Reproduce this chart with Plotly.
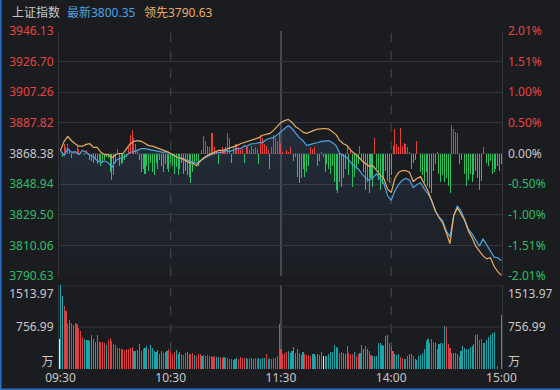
import plotly.graph_objects as go

# ---------------- data ----------------
PREV_CLOSE = 3868.38
LATEST = 3800.35
LEADING = 3790.63
PRICE_MIN, PRICE_MAX = 3790.63, 3946.13
VOL_MAX = 1513.97

price_ticks = [3790.63, 3810.06, 3829.50, 3848.94, 3868.38, 3887.82, 3907.26, 3926.70, 3946.13]
pct_tick_labels = ['-2.01%', '-1.51%', '-1.00%', '-0.50%', '0.00%', '0.50%', '1.00%', '1.51%', '2.01%']
time_ticks = [0, 60, 120, 180, 240]
time_labels = ['09:30', '10:30', '11:30', '14:00', '15:00']
vol_ticks = [0, 756.99, 1513.97]
vol_tick_labels = ['万', '756.99', '1513.97']

# price line (percent change vs previous close), every 2 minutes
line_minutes = list(range(0, 241, 2))
price_pct = [
    0.05, -0.03, 0.08, 0.02, 0.03, -0.02, 0.05, 0.02, -0.03, -0.05,
    -0.12, -0.15, -0.12, -0.15, -0.23, -0.12, -0.08, -0.07, -0.03, 0.02,
    0.03, 0.05, 0.08, 0.08, 0.07, 0.05, 0.05, 0.03, 0.02, 0.03,
    0.00, -0.03, -0.07, -0.08, -0.10, -0.12, -0.15, -0.16, -0.12, -0.08,
    -0.05, -0.02, 0.00, 0.02, 0.02, 0.05, 0.03, 0.05, 0.08, 0.08,
    0.12, 0.13, 0.16, 0.16, 0.18, 0.18, 0.23, 0.25, 0.26, 0.31,
    0.36,
    0.41, 0.46, 0.41, 0.33, 0.26, 0.21, 0.13, 0.15, 0.16, 0.18,
    0.20, 0.21, 0.21, 0.18, 0.13, 0.00, -0.03, -0.07, -0.15, -0.20,
    -0.25, -0.33, -0.40, -0.44, -0.40, -0.33, -0.41, -0.49, -0.69, -0.77,
    -0.61, -0.51, -0.44, -0.41, -0.44, -0.56, -0.51, -0.48, -0.58, -0.66,
    -0.77, -0.94, -1.04, -1.10, -1.27, -1.37, -1.02, -0.86, -0.94, -1.10,
    -1.24, -1.32, -1.43, -1.52, -1.40, -1.50, -1.62, -1.70, -1.71, -1.76,
]
lead_pct = [
    0.05, 0.20, 0.28, 0.21, 0.16, 0.12, 0.12, 0.15, 0.16, 0.10,
    0.10, 0.02, -0.02, -0.02, -0.07, -0.02, 0.00, 0.00, 0.08, 0.16,
    0.20, 0.21, 0.20, 0.16, 0.13, 0.12, 0.10, 0.08, 0.05, 0.03,
    0.00, -0.03, -0.07, -0.08, -0.12, -0.15, -0.16, -0.20, -0.13, -0.07,
    -0.03, 0.00, 0.02, 0.05, 0.05, 0.07, 0.08, 0.10, 0.13, 0.16,
    0.18, 0.21, 0.23, 0.25, 0.26, 0.30, 0.31, 0.33, 0.38, 0.44,
    0.51,
    0.54, 0.56, 0.51, 0.44, 0.40, 0.35, 0.33, 0.36, 0.38, 0.40,
    0.41, 0.41, 0.40, 0.36, 0.31, 0.21, 0.16, 0.13, 0.05, 0.00,
    -0.05, -0.12, -0.16, -0.21, -0.20, -0.28, -0.35, -0.41, -0.58, -0.64,
    -0.41, -0.31, -0.28, -0.28, -0.31, -0.46, -0.41, -0.38, -0.49, -0.61,
    -0.77, -0.94, -1.05, -1.14, -1.30, -1.48, -1.02, -0.89, -0.99, -1.10,
    -1.27, -1.38, -1.52, -1.60, -1.68, -1.73, -1.71, -1.85, -1.94, -2.00,
]

# buy/sell strength bars, one per minute (percent units)
strength_minutes = list(range(241))
strength_pct = [
    0, -0.05, 0.15, 0.10, 0.16, 0.08, -0.07, 0.03, 0, 0.13,
    0.08, 0.03, 0, -0.03, 0.05, 0, -0.10, -0.12, -0.15, -0.10,
    -0.18, -0.12, -0.20, -0.15, -0.10, -0.05, -0.08, -0.30, -0.43, -0.35,
    -0.15, 0.08, -0.20, -0.18, -0.15, -0.10, -0.05, 0.10, 0.30, 0.38,
    0.25, 0.15, 0.05, -0.10, -0.30, -0.25, -0.33, -0.20, -0.28, -0.15,
    -0.30, -0.35, -0.15, -0.25, -0.10, -0.20, -0.30, -0.18, -0.25, -0.30,
    -0.15, -0.20, -0.33, -0.22, -0.36, -0.25, -0.15, -0.33, -0.28, -0.35,
    -0.38, -0.49, -0.30, -0.15, -0.12, -0.20, 0, 0.05, 0.28, 0.20,
    0.12, 0.10, 0.33, 0.33, 0.10, 0.02, -0.17, 0.05, 0.10, 0.05,
    0.10, 0.33, 0.25, -0.15, 0.12, 0.15, 0.15, 0.10, 0.05, 0.08,
    -0.15, 0.12, 0.10, 0.05, 0.12, 0.08, 0.10, 0.08, -0.18, 0.30,
    0.26, 0.15, 0.12, 0.05, -0.25, 0.10, 0.30, 0.26, 0.20, 0.35,
    0.18,
    0.03, 0, 0.05, 0.03, 0.10, 0, -0.12, -0.05, -0.38, -0.49,
    -0.40, -0.25, -0.38, -0.30, -0.20, 0.10, 0.08, 0.10, 0, -0.20,
    -0.12, 0.03, -0.05, -0.30, -0.18, -0.25, -0.33, -0.20, -0.46, -0.60,
    -0.64, -0.46, -0.55, -0.40, -0.25, 0.10, -0.35, 0.08, -0.55, -0.38,
    -0.25, -0.18, 0.12, -0.12, -0.30, -0.60, -0.46, -0.64, -0.40, -0.55,
    0.26, -0.25, -0.43, -0.60, -0.50, -0.43, -0.28, -0.45, -0.48, -0.35,
    0.13, 0.40, 0.15, 0.10, 0.42, 0.12, 0.18, 0.15, 0.10, 0.03,
    -0.25, -0.15, -0.10, 0.20, 0, -0.30, -0.36, -0.46, -0.30, -0.53,
    -0.56, -0.64, -0.28, -0.18, 0.03, -0.33, -0.46, -0.36, -0.46, -0.40,
    -0.53, -0.64, 0.46, 0.40, 0.36, 0.33, -0.18, -0.10, 0, -0.33,
    -0.53, -0.43, -0.33, -0.46, -0.36, -0.28, -0.40, -0.60, -0.45, 0.10,
    0, -0.15, -0.20, -0.12, -0.33, -0.30, -0.25, -0.20, -0.28, -0.18,
]

# volume per minute (万) and bar direction: r = up, t = down, w = flat
volume_minutes = list(range(241))
volume = [
    1515, 1309, 1127, 1048, 806, 885, 836, 800, 836, 806,
    740, 685, 582, 533, 515, 521, 503, 606, 533, 485,
    612, 485, 485, 485, 461, 430, 521, 564, 503, 442,
    424, 376, 370, 364, 352, 339, 352, 364, 382, 400,
    333, 321, 339, 442, 321, 352, 382, 412, 352, 436,
    382, 321, 303, 339, 279, 321, 291, 303, 327, 352,
    321, 279, 303, 339, 279, 315, 279, 261, 291, 303,
    279, 279, 291, 261, 242, 279, 267, 242, 255, 230,
    255, 242, 230, 224, 230, 218, 218, 218, 200, 218,
    200, 206, 182, 182, 170, 182, 194, 182, 218, 194,
    194, 194, 182, 194, 206, 182, 194, 182, 194, 182,
    206, 194, 267, 182, 194, 182, 200, 194, 230, 806,
    364,
    279, 291, 303, 321, 291, 321, 400, 291, 352, 291,
    261, 303, 279, 261, 261, 242, 279, 267, 242, 279,
    261, 303, 230, 230, 242, 279, 303, 303, 436, 394,
    382, 291, 303, 291, 279, 412, 291, 279, 267, 303,
    242, 267, 291, 436, 364, 412, 364, 321, 261, 242,
    242, 242, 473, 461, 436, 412, 594, 606, 473, 412,
    321, 279, 261, 267, 218, 200, 182, 182, 242, 279,
    279, 242, 182, 170, 230, 248, 291, 352, 503, 545,
    473, 545, 485, 473, 364, 442, 473, 473, 776, 764,
    442, 376, 291, 291, 291, 279, 242, 321, 412, 382,
    364, 352, 400, 412, 442, 606, 624, 521, 533, 461,
    473, 521, 582, 606, 654, 667, 0, 48, 0, 970,
]
volume_dir = list(
    "ttrrrtrrrr" "rrrttttttt" "trrrrtrrrr" "rrrrrrrrrr" "ttttrrttrt" "tttttttttr"
    "rrrtttrrrt" "trrtrrrtrr" "rrrrrttrrt" "rrrrtttrrr" "rtrrttrrtt" "ttrtrrrrrr"
    "r"
    "rrrttttttt" "ttrrrrttrt" "ttwttttttt" "trrtttrrrt" "rrtttttrrt" "ttttttttrr"
    "rtttrrtrtt" "trtttttttt" "trrttttttr" "rrttttrttt" "ttttttrrrt" "tttttttrtt"
)
auction_volume = 545

# ---------------- styling ----------------
BG = '#1b1c20'
GRID = '#35363b'
RED = '#e8433f'
GREEN = '#2ebd66'
TXT = '#c8c8c8'
BLUE = '#4ca3e4'
ORANGE = '#e8ad62'
FONT = 'Noto Sans, Noto Sans CJK SC, sans-serif'
BAR_RED = '#e8433f'
BAR_GREEN = '#2ec466'
VOL_COLORS = {'r': '#dc4449', 't': '#1fa6aa', 'w': '#f0f0f0'}

W, H = 560, 390
L, R, T, B = 59, 58, 31, 21
PW, PH = W - L - R, H - T - B
XR = [-0.8, 240.3]


def px(x):
    return (x - L) / PW


def py(y):
    return (H - B - y) / PH


TOP_DOMAIN = [py(276), 1]
VOL_DOMAIN = [0, py(285)]

prices = [PREV_CLOSE * (1 + p / 100) for p in price_pct]
pct_ticks = [(p / PREV_CLOSE - 1) * 100 for p in price_ticks]
pct_range = [(PRICE_MIN / PREV_CLOSE - 1) * 100, (PRICE_MAX / PREV_CLOSE - 1) * 100]


def tick_color(v, mid):
    if abs(v - mid) < 1e-6:
        return TXT
    return RED if v > mid else GREEN


left_text = ['<span style="color:%s">%.2f</span>' % (tick_color(v, PREV_CLOSE), v) for v in price_ticks]
right_text = ['<span style="color:%s">%s</span>' % (tick_color(v, 0), s) for v, s in zip(pct_ticks, pct_tick_labels)]

strength_colors = [BAR_RED if v > 0 else BAR_GREEN for v in strength_pct]
vol_bar_colors = [VOL_COLORS[d] for d in volume_dir]

fig = go.Figure()

# area under price line (main subplot, drawn beneath everything else)
fig.add_trace(go.Scatter(
    x=line_minutes, y=prices, xaxis='x', yaxis='y', mode='lines',
    line=dict(width=0), fill='tozeroy',
    fillgradient=dict(type='vertical', start=PRICE_MIN, stop=3885,
                      colorscale=[[0, 'rgba(60,100,145,0.02)'], [1, 'rgba(60,100,145,0.24)']]),
    hoverinfo='skip', showlegend=False))

# strength bars (hairline outline in same colour -> edges snap to whole pixels)
fig.add_trace(go.Bar(
    x=strength_minutes, y=strength_pct, xaxis='x', yaxis='y2', width=0.55,
    marker=dict(color=strength_colors, line=dict(width=0.02, color=strength_colors)),
    showlegend=False))

# price lines
fig.add_trace(go.Scatter(x=line_minutes, y=price_pct, xaxis='x', yaxis='y2', mode='lines',
                         line=dict(color=BLUE, width=1.2), showlegend=False))
fig.add_trace(go.Scatter(x=line_minutes, y=lead_pct, xaxis='x', yaxis='y2', mode='lines',
                         line=dict(color=ORANGE, width=1.2), showlegend=False))

# volume
fig.add_trace(go.Bar(x=[-0.55], y=[auction_volume], xaxis='x2', yaxis='y3', width=0.55,
                     marker=dict(color=VOL_COLORS['w'], line=dict(width=0.02, color=VOL_COLORS['w'])),
                     showlegend=False))
fig.add_trace(go.Bar(x=volume_minutes, y=volume, xaxis='x2', yaxis='y3', width=0.6,
                     marker=dict(color=vol_bar_colors, line=dict(width=0.02, color=vol_bar_colors)),
                     showlegend=False))
fig.add_trace(go.Scatter(x=[None], y=[None], xaxis='x2', yaxis='y4', showlegend=False))

tickfont = dict(family=FONT, size=12, color=TXT)
vol_label_pos = [126, 756.99, 1352]

fig.update_layout(
    width=W, height=H, margin=dict(l=L, r=R, t=T, b=B, autoexpand=False),
    paper_bgcolor=BG, plot_bgcolor=BG, font=dict(family=FONT, color=TXT),
    bargap=0, barmode='overlay', hovermode=False,
    xaxis=dict(domain=[0, 1], anchor='y', range=XR, showticklabels=False, showgrid=False,
               zeroline=False, showline=False, fixedrange=True, automargin=False),
    yaxis=dict(domain=TOP_DOMAIN, anchor='x', range=[PRICE_MIN, PRICE_MAX], tickmode='array',
               tickvals=price_ticks, ticktext=left_text, gridcolor=GRID, gridwidth=1,
               zeroline=False, showline=True, linecolor=GRID, mirror=True, ticks='',
               tickfont=tickfont, ticklabelstandoff=2, automargin=False),
    yaxis2=dict(overlaying='y', side='right', anchor='x', range=pct_range, tickmode='array',
                tickvals=pct_ticks, ticktext=right_text, showgrid=False, zeroline=False,
                ticks='', tickfont=tickfont, ticklabelstandoff=5, automargin=False),
    xaxis2=dict(domain=[0, 1], anchor='y3', range=XR, tickmode='array', tickvals=time_ticks,
                ticktext=time_labels, showgrid=False, zeroline=False, showline=False, ticks='',
                tickfont=tickfont, automargin=False),
    yaxis3=dict(domain=VOL_DOMAIN, anchor='x2', range=[0, VOL_MAX], tickmode='array',
                tickvals=vol_label_pos, ticktext=vol_tick_labels, showgrid=False, zeroline=False,
                showline=True, linecolor=GRID, mirror=True, ticks='', tickfont=tickfont,
                ticklabelstandoff=2, automargin=False),
    yaxis4=dict(overlaying='y3', side='right', anchor='x2', range=[0, VOL_MAX], tickmode='array',
                tickvals=vol_label_pos, ticktext=vol_tick_labels, showgrid=False, zeroline=False,
                ticks='', tickfont=tickfont, ticklabelstandoff=5, automargin=False),
)

shapes = []
for m, dash, col, wid in [(60, 'dash', '#4a4b50', 1), (180, 'dash', '#4a4b50', 1), (120, 'solid', '#55565c', 1.5)]:
    for xr, yr in [('x', 'y domain'), ('x2', 'y3 domain')]:
        shapes.append(dict(type='line', xref=xr, yref=yr, x0=m, x1=m, y0=0, y1=1,
                           line=dict(color=col, width=wid, dash=dash), layer='below'))
for v in vol_ticks[1:]:
    shapes.append(dict(type='line', xref='x2 domain', yref='y3', x0=0, x1=1, y0=v, y1=v,
                       line=dict(color=GRID, width=1), layer='below'))
# window border (left and bottom)
shapes.append(dict(type='rect', xref='paper', yref='paper', x0=px(0), x1=px(1.5), y0=py(H), y1=py(0),
                   fillcolor='#2d6fc0', line=dict(width=0), layer='above'))
shapes.append(dict(type='rect', xref='paper', yref='paper', x0=px(0), x1=px(W), y0=py(H), y1=py(H - 1.5),
                   fillcolor='#2d6fc0', line=dict(width=0), layer='above'))
fig.update_layout(shapes=shapes)

header = [
    (10, '上证指数', '#c3c6cc'),
    (65, '最新%.2f' % LATEST, BLUE),
    (142, '领先%.2f' % LEADING, ORANGE),
]
fig.update_layout(annotations=[
    dict(xref='paper', yref='paper', x=px(x0), y=py(12), xanchor='left', yanchor='middle',
         text=t, showarrow=False, font=dict(family=FONT, size=12, color=c))
    for x0, t, c in header
])

fig.write_html('out.html', config={'displayModeBar': False},
               post_script="document.body.style.margin='0';document.body.style.background='%s';" % BG)
